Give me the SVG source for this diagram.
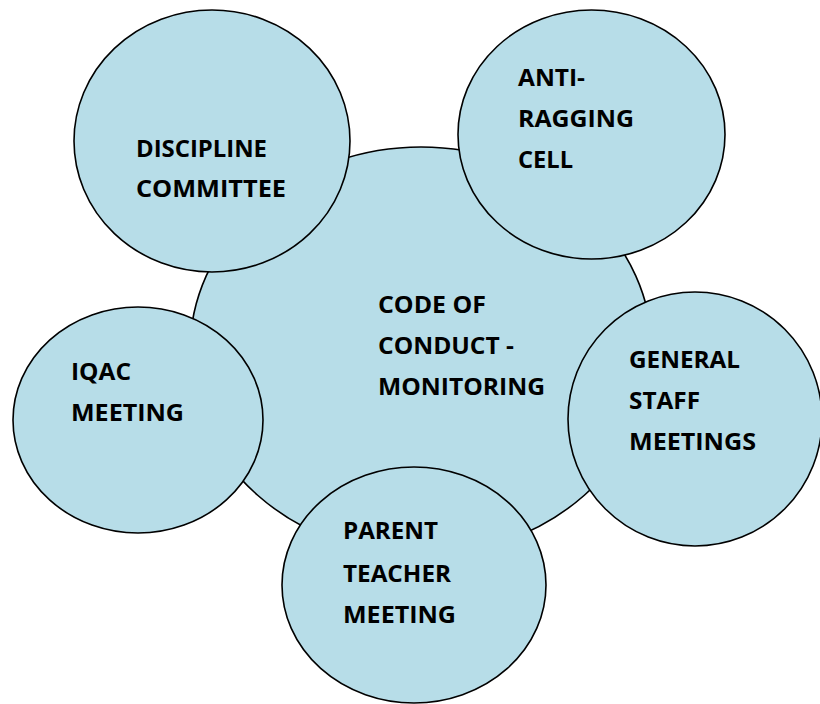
<svg xmlns="http://www.w3.org/2000/svg" width="820" height="704" viewBox="0 0 820 704">
<style>
.c{fill:#b7dde8;stroke:#000;stroke-width:1.6}
.t{font-family:"Open Sans","Liberation Sans",Arial,sans-serif;font-weight:bold;font-size:24px;fill:#000}
</style>
<rect width="820" height="704" fill="#fff"/>
<g id="connectors"></g>
<g id="center">
<ellipse class="c" cx="421" cy="351" rx="231" ry="204"/>
<text class="t" x="378" y="313" textLength="108" lengthAdjust="spacingAndGlyphs">CODE OF</text>
<text class="t" x="378" y="354" textLength="136" lengthAdjust="spacingAndGlyphs">CONDUCT -</text>
<text class="t" x="378" y="395" textLength="167" lengthAdjust="spacingAndGlyphs">MONITORING</text>
</g>
<g id="discipline">
<ellipse class="c" cx="212" cy="141" rx="138" ry="131"/>
<text class="t" x="136" y="157" textLength="131" lengthAdjust="spacingAndGlyphs">DISCIPLINE</text>
<text class="t" x="136" y="197" textLength="150" lengthAdjust="spacingAndGlyphs">COMMITTEE</text>
</g>
<g id="antiragging">
<ellipse class="c" cx="591.5" cy="134.5" rx="133.5" ry="124.5"/>
<text class="t" x="518" y="86" textLength="67" lengthAdjust="spacingAndGlyphs">ANTI-</text>
<text class="t" x="518" y="127" textLength="116" lengthAdjust="spacingAndGlyphs">RAGGING</text>
<text class="t" x="518" y="168" textLength="55" lengthAdjust="spacingAndGlyphs">CELL</text>
</g>
<g id="iqac">
<ellipse class="c" cx="138" cy="420" rx="125" ry="113"/>
<text class="t" x="71" y="380" textLength="60" lengthAdjust="spacingAndGlyphs">IQAC</text>
<text class="t" x="71" y="421" textLength="113" lengthAdjust="spacingAndGlyphs">MEETING</text>
</g>
<g id="generalstaff">
<ellipse class="c" cx="695" cy="419" rx="127" ry="127"/>
<text class="t" x="629" y="368" textLength="111" lengthAdjust="spacingAndGlyphs">GENERAL</text>
<text class="t" x="629" y="409" textLength="71" lengthAdjust="spacingAndGlyphs">STAFF</text>
<text class="t" x="629" y="450" textLength="127" lengthAdjust="spacingAndGlyphs">MEETINGS</text>
</g>
<g id="parentteacher">
<ellipse class="c" cx="414" cy="585" rx="132" ry="118"/>
<text class="t" x="343" y="539" textLength="95" lengthAdjust="spacingAndGlyphs">PARENT</text>
<text class="t" x="343" y="582" textLength="108" lengthAdjust="spacingAndGlyphs">TEACHER</text>
<text class="t" x="343" y="623" textLength="113" lengthAdjust="spacingAndGlyphs">MEETING</text>
</g>
</svg>
